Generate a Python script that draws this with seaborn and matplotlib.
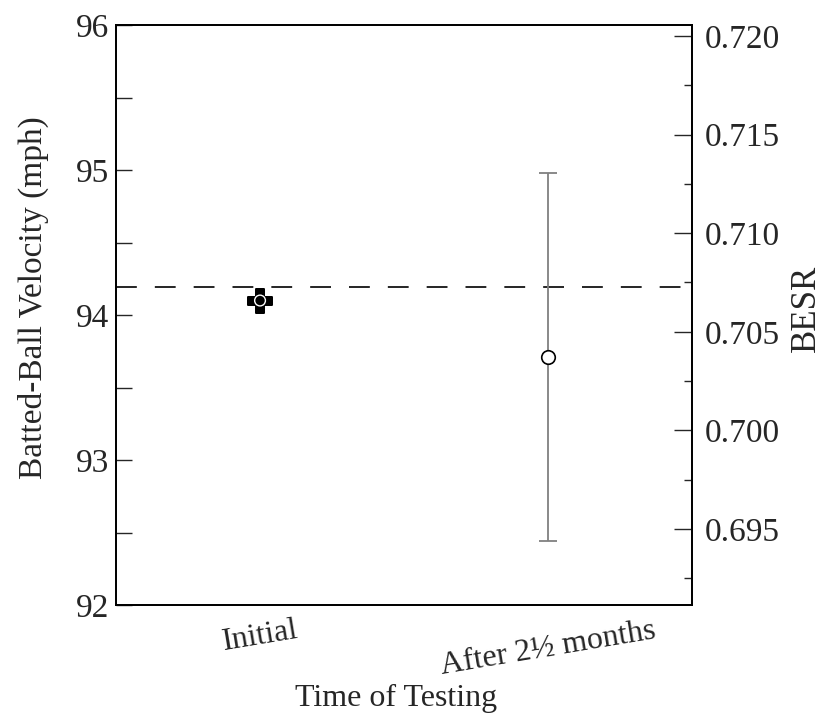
import matplotlib
matplotlib.use("Agg")
from matplotlib import pyplot as plt
from matplotlib.ticker import MultipleLocator, FormatStrFormatter
import numpy as np
import pandas as pd
import seaborn as sns

# Data
times = ["Initial", "After 2\u00bd months"]
velocity = [94.1, 93.71]
velocity_err = [0.07, 1.27]
reference_velocity = 94.19

# BESR axis range matching the velocity range 92-96 mph
besr_limits = (0.69115, 0.72055)

df = pd.DataFrame({"time": times, "velocity": velocity, "err": velocity_err})

sns.set_style("ticks")
plt.rcParams["font.family"] = ["Liberation Serif", "DejaVu Serif"]
plt.rcParams["font.size"] = 24

fig = plt.figure(figsize=(8.3, 7.15), dpi=100)
ax = fig.add_axes([0.1398, 0.1538, 0.694, 0.8112])

# reference line
ax.axhline(reference_velocity, color="black", lw=1.2, linestyle=(0, (12.5, 10.8)), zorder=1)

# Initial: thick black cross
first = df.iloc[[0]]
ax.errorbar(first["time"], first["velocity"], yerr=first["err"], fmt="none",
            ecolor="black", elinewidth=3, capsize=0, zorder=3)
sns.scatterplot(data=first, x="time", y="velocity", marker="P", s=320,
                color="black", edgecolor="black", ax=ax, zorder=4)
sns.scatterplot(data=first, x="time", y="velocity", marker="o", s=60,
                facecolor="none", edgecolor="white", linewidth=1, ax=ax, zorder=5)

# After 2.5 months: open circle with gray error bar
second = df.iloc[[1]]
ax.errorbar(second["time"], second["velocity"], yerr=second["err"], fmt="none",
            ecolor="#808080", elinewidth=1.3, capsize=6.8, capthick=1.3, zorder=2)
sns.scatterplot(data=second, x="time", y="velocity", marker="o", s=95,
                facecolor="white", edgecolor="black", linewidth=1.2, ax=ax, zorder=4)

ax.set_xlim(-0.5, 1.5)
ax.set_ylim(92, 96)
ax.yaxis.set_major_locator(MultipleLocator(1))
ax.yaxis.set_minor_locator(MultipleLocator(0.5))
ax.tick_params(axis="y", which="both", direction="in", length=11.5, width=1, labelsize=24, pad=5)
ax.tick_params(axis="x", direction="in", length=0, labelsize=23, pad=8)
ax.set_xticks([0, 1])
ax.set_xticklabels(times, rotation=9.5, ha="center")
ax.set_xlabel("Time of Testing", fontsize=23)
ax.xaxis.set_label_coords(0.486, -0.136)
ax.set_ylabel("Batted-Ball Velocity (mph)", fontsize=24)
ax.yaxis.set_label_coords(-0.116, 0.53)
for s in ax.spines.values():
    s.set_linewidth(1.3)
    s.set_color("black")

ax2 = ax.twinx()
ax2.set_ylim(*besr_limits)
ax2.yaxis.set_major_locator(MultipleLocator(0.005))
ax2.yaxis.set_minor_locator(MultipleLocator(0.0025))
ax2.yaxis.set_major_formatter(FormatStrFormatter("%.3f"))
ax2.tick_params(axis="y", which="major", direction="in", length=13, width=1, labelsize=24, pad=9)
ax2.tick_params(axis="y", which="minor", direction="in", length=6, width=1)
ax2.set_ylabel("BESR", fontsize=25)
ax2.yaxis.set_label_coords(1.170, 0.512)
for s in ax2.spines.values():
    s.set_linewidth(1.3)
    s.set_color("black")

fig.savefig("out.png", dpi=100)
